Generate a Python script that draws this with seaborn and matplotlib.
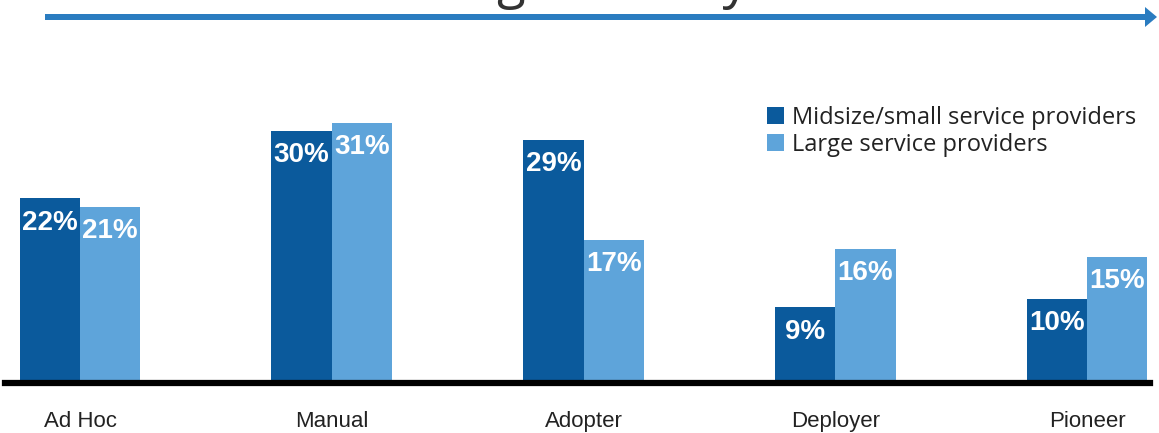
import matplotlib
matplotlib.use("Agg")
import matplotlib.pyplot as plt
import seaborn as sns
import pandas as pd
from matplotlib.patches import FancyArrow

# Share of service providers at each automation maturity stage (%)
categories = ["Ad Hoc", "Manual", "Adopter", "Deployer", "Pioneer"]
midsize_small = [22, 30, 29, 9, 10]
large = [21, 31, 17, 16, 15]
series_names = ["Midsize/small service providers", "Large service providers"]
colors = ["#0b5a9c", "#5ea4da"]

df = pd.DataFrame({
    "stage": categories * 2,
    "share": midsize_small + large,
    "segment": [series_names[0]] * len(categories) + [series_names[1]] * len(categories),
})

sns.set_theme(style="white")
plt.rcParams["font.family"] = ["Liberation Sans", "DejaVu Sans"]

W, H = 1159, 433
fig = plt.figure(figsize=(W / 100, H / 100), dpi=100)
ax = fig.add_axes([5 / W, 50 / H, 1145 / W, 323 / H])

sns.barplot(data=df, x="stage", y="share", hue="segment", hue_order=series_names,
            order=categories, palette=colors, width=0.48, gap=0, saturation=1,
            linewidth=0, ax=ax)

# value labels inside the top of each bar
for container, values in zip(ax.containers, [midsize_small, large]):
    for bar, v in zip(container, values):
        ax.annotate(f"{v}%", (bar.get_x() + bar.get_width() / 2, bar.get_height()),
                    xytext=(0, -8), textcoords="offset points", ha="center", va="top",
                    color="white", fontsize=20, fontweight="bold")

ax.set_xlim(-0.298, 4.25)
ax.set_ylim(0, 38.5)
ax.set_xlabel("")
ax.set_ylabel("")
ax.set_yticks([])
for side in ["left", "top", "right"]:
    ax.spines[side].set_visible(False)
ax.spines["bottom"].set_color("black")
ax.spines["bottom"].set_linewidth(4.5)
ax.tick_params(axis="x", length=0, pad=20, labelsize=16, labelcolor="#222222")

ax.legend(loc="upper left", bbox_to_anchor=(767 / W, 1 - 106 / H),
          bbox_transform=fig.transFigure, frameon=False,
          prop={"family": ["Open Sans", "DejaVu Sans"], "size": 17},
          handlelength=0.72, handleheight=0.72, handletextpad=0.33,
          labelspacing=0.12, borderpad=0, borderaxespad=0, labelcolor="#222222")

# maturity direction arrow across the top
fig.add_artist(FancyArrow(0.45, 4.16, 11.12, 0, width=0.06, head_width=0.2,
                          head_length=0.12, length_includes_head=True,
                          color="#2a7cc0", linewidth=0,
                          transform=fig.dpi_scale_trans))
fig.text(2.74, 4.355, "Increasing maturity", transform=fig.dpi_scale_trans,
         ha="left", va="baseline", fontsize=38, color="#333333",
         family=["Open Sans", "DejaVu Sans"])

fig.savefig("out.png", dpi=100)
